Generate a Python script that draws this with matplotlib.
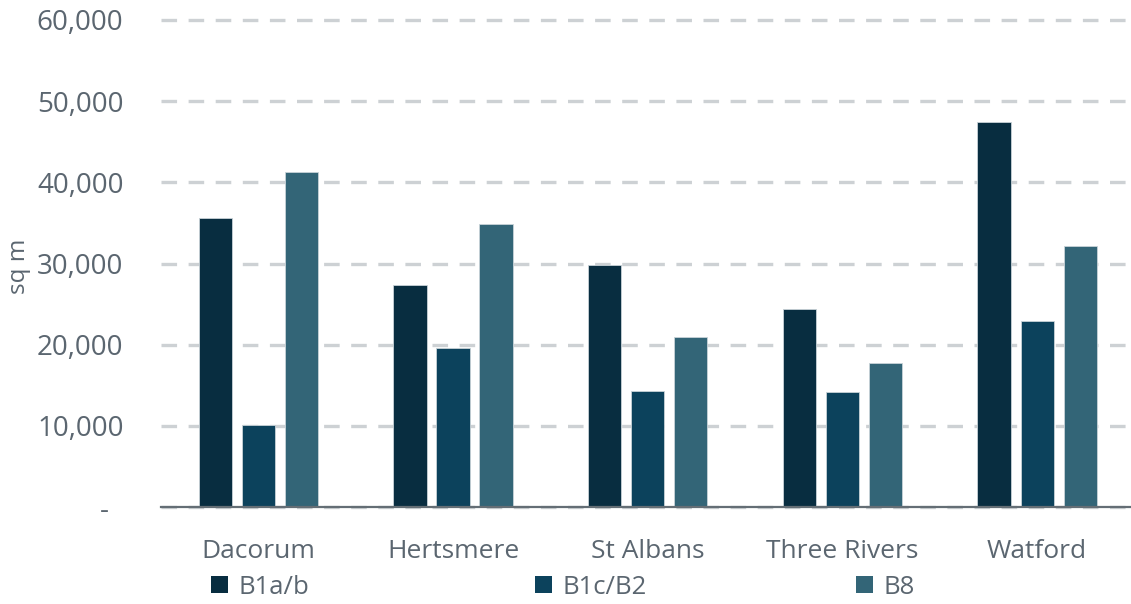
import matplotlib
matplotlib.use("Agg")
import matplotlib.pyplot as plt
import numpy as np
from matplotlib.ticker import FuncFormatter, MultipleLocator
from matplotlib.patches import Patch

categories = ["Dacorum", "Hertsmere", "St Albans", "Three Rivers", "Watford"]
series_names = ["B1a/b", "B1c/B2", "B8"]
b1ab = [35600, 27300, 29850, 24450, 47400]
b1cb2 = [10100, 19550, 14300, 14200, 22900]
b8 = [41250, 34900, 21000, 17800, 32200]
colors = ["#082d40", "#0c425c", "#336577"]

values = [b1ab, b1cb2, b8]

fig = plt.figure(figsize=(11.31, 6.04), dpi=100)
ax = fig.add_axes([161/1131, 1-507/604, 1-161/1131+0.003, (507-20)/604])

x = np.arange(len(categories))
width = 0.17
pitch = 0.221
for i, (vals, c) in enumerate(zip(values, colors)):
    ax.bar(x + (i-1)*pitch, vals, width, color=c, edgecolor="#c9d3d8", linewidth=0.6, zorder=3)

ax.set_xlim(-0.5, 4.5)
ax.set_ylim(0, 60000)
ax.yaxis.set_major_locator(MultipleLocator(10000))
ax.yaxis.set_major_formatter(FuncFormatter(lambda v, p: "-  " if v == 0 else f"{int(v):,}"))

tick_color = "#5b6670"
ax.grid(axis="y", color="#cdd1d4", linewidth=2.4, linestyle=(0, (4.67, 3.46)), zorder=0)
for gl in ax.get_ygridlines():
    gl.set_clip_on(False)
ax.set_axisbelow(True)

for s in ["top", "right", "left"]:
    ax.spines[s].set_visible(False)
ax.spines["bottom"].set_color("#646e75")
ax.spines["bottom"].set_linewidth(1.6)
ax.spines["bottom"].set_zorder(4)

ax.tick_params(axis="y", length=0, pad=27, labelsize=20, labelcolor=tick_color)
ax.tick_params(axis="x", length=0, pad=23, labelsize=19, labelcolor=tick_color)
ax.set_xticks(x)
ax.set_xticklabels(categories)
for lab in ax.get_yticklabels():
    lab.set_fontfamily("Open Sans")
for lab in ax.get_xticklabels():
    lab.set_fontfamily("Open Sans")

fig.text(19/1131, 1-266/604, "sq m", rotation=90, ha="center", va="center",
         fontsize=17.5, color=tick_color, family="Open Sans")

leg_x = [211, 535, 856]
for name, c, lx in zip(series_names, colors, leg_x):
    fig.legend(handles=[Patch(facecolor=c, edgecolor="none")], labels=[name],
               loc="center left", bbox_to_anchor=(lx/1131, 1-587/604),
               frameon=False, handlelength=0.68, handleheight=0.64,
               handletextpad=0.4, borderpad=0, borderaxespad=0,
               prop={"family": "Open Sans", "size": 18.5}, labelcolor=tick_color)

fig.savefig("out.png", dpi=100)
